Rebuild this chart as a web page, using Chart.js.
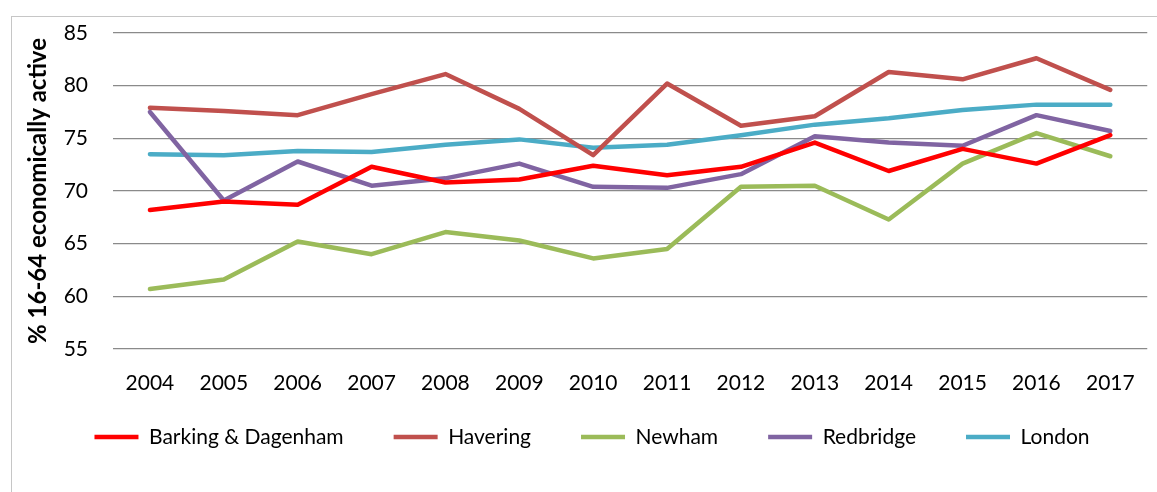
<!DOCTYPE html>
<html>
<head>
<meta charset="utf-8">
<script src="https://cdn.jsdelivr.net/npm/chart.js@4/dist/chart.umd.min.js"></script>
<style>
  html, body { margin: 0; padding: 0; background: #fff; }
  .wrap { position: relative; width: 1157px; height: 492px; overflow: hidden; }
  .frame {
    position: absolute; left: 11px; top: 16px; width: 1200px; height: 520px;
    border: 1px solid #c6c6c6; box-sizing: border-box;
  }
  canvas { position: absolute; left: 0; top: 0; }
</style>
</head>
<body>
<div class="wrap">
  <div class="frame"></div>
  <canvas id="myChart" width="1157" height="492"></canvas>
</div>
<script>
// Share of 16-64 year olds economically active, by borough
const years = ['2004', '2005', '2006', '2007', '2008', '2009', '2010',
  '2011', '2012', '2013', '2014', '2015', '2016', '2017'];

const barking = [68.2, 69.0, 68.7, 72.3, 70.8, 71.1, 72.4, 71.5, 72.3, 74.6, 71.9, 74.0, 72.6, 75.3];
const havering = [77.9, 77.6, 77.2, 79.2, 81.1, 77.8, 73.4, 80.2, 76.2, 77.1, 81.3, 80.6, 82.6, 79.6];
const newham = [60.7, 61.6, 65.2, 64.0, 66.1, 65.3, 63.6, 64.5, 70.4, 70.5, 67.3, 72.6, 75.5, 73.3];
const redbridge = [77.5, 69.1, 72.8, 70.5, 71.2, 72.6, 70.4, 70.3, 71.6, 75.2, 74.6, 74.3, 77.2, 75.7];
const london = [73.5, 73.4, 73.8, 73.7, 74.4, 74.9, 74.1, 74.4, 75.3, 76.3, 76.9, 77.7, 78.2, 78.2];

const yTicks = [55, 60, 65, 70, 75, 80, 85];

const fontFamily = 'Lato, "Noto Sans", sans-serif';

function series(label, data, color) {
  return {
    label,
    data,
    borderColor: color,
    backgroundColor: color,
    borderWidth: 4.5,
    borderCapStyle: 'round',
    borderJoinStyle: 'round',
    pointRadius: 0,
    pointHoverRadius: 0,
    tension: 0,
  };
}

const data = {
  labels: years,
  datasets: [
    series('Barking & Dagenham', barking, '#ff0000'),
    series('Havering', havering, '#c0504d'),
    series('Newham', newham, '#9bbb59'),
    series('Redbridge', redbridge, '#8064a2'),
    series('London', london, '#4bacc6'),
  ],
};

// move the legend row right of centre and up, closer to the year labels
const legendShift = {
  id: 'legendShift',
  afterLayout(chart) {
    const lg = chart.legend;
    lg.left += 18;
    lg.right += 18;
    lg.top -= 31;
    lg.bottom -= 31;
  },
};

const config = {
  type: 'line',
  data: data,
  plugins: [legendShift],
  options: {
    responsive: false,
    animation: false,
    events: [],
    layout: { padding: { top: 33, right: 9, bottom: 3.5, left: 0 } },
    plugins: {
      tooltip: { enabled: false },
      legend: {
        position: 'bottom',
        labels: {
          usePointStyle: true,
          pointStyle: 'line',
          pointStyleWidth: 44,
          boxHeight: 5,
          padding: 50,
          color: '#000',
          font: { family: fontFamily, size: 21 },
        },
      },
    },
    scales: {
      x: {
        offset: true,
        afterFit(scale) { scale.height = 58.5; },
        grid: { display: false, drawTicks: false },
        border: { display: false },
        ticks: {
          color: '#000',
          padding: 22,
          maxRotation: 0,
          font: { family: fontFamily, size: 21 },
        },
      },
      y: {
        min: 55,
        max: 85,
        afterFit(scale) {
          scale.width = 113;
          scale.paddingTop = 0;
          scale.paddingBottom = 0;
        },
        afterBuildTicks(scale) { scale.ticks = yTicks.map((v) => ({ value: v })); },
        grid: { color: '#8a8a8a', lineWidth: 1.3, drawTicks: false },
        border: { display: false },
        ticks: {
          color: '#000',
          padding: 25,
          font: { family: fontFamily, size: 21 },
        },
        title: {
          display: true,
          text: '% 16-64 economically active',
          color: '#000',
          padding: { top: 24, bottom: 0 },
          font: { family: fontFamily, size: 24, weight: 'bold' },
        },
      },
    },
  },
};

const ctx = document.getElementById('myChart').getContext('2d');
const myChart = new Chart(ctx, config);
</script>
</body>
</html>
